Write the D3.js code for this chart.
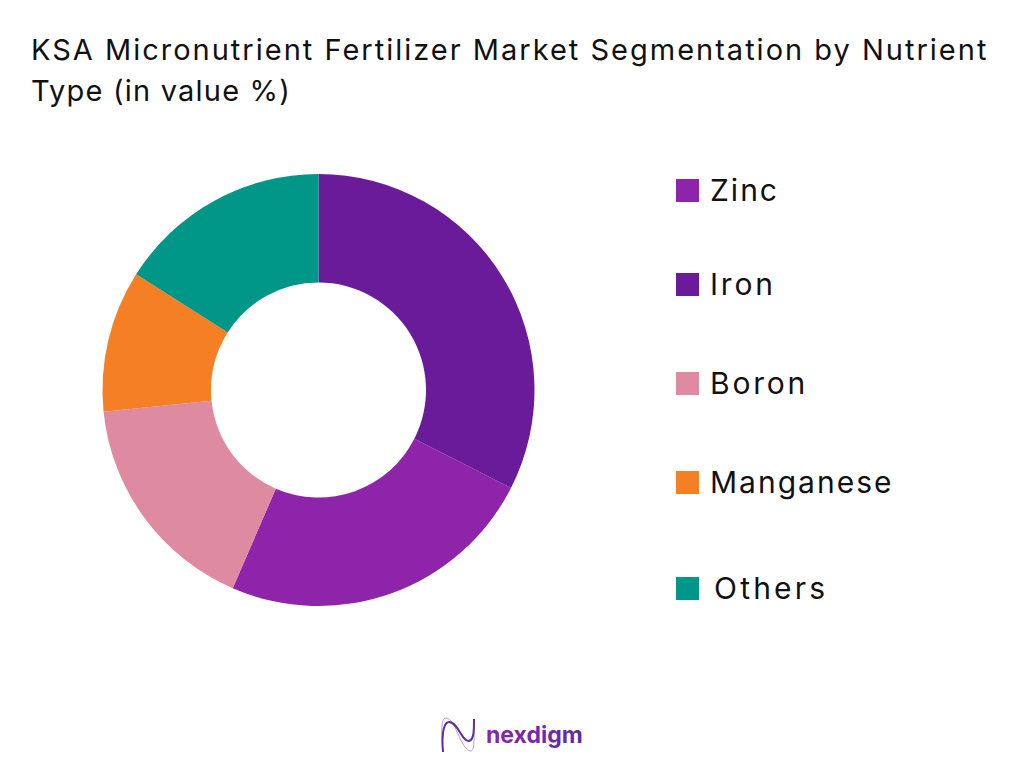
<!DOCTYPE html>
<html>
<head>
<meta charset="utf-8">
<script src="https://cdn.jsdelivr.net/npm/d3@7"></script>
<style>
  html, body { margin: 0; padding: 0; background: #fff; }
  svg { display: block; }
  text { font-family: "Inter", "Noto Sans", sans-serif; fill: #111; }
</style>
</head>
<body>
<div id="chart"></div>
<script>
const titleLines = ["KSA Micronutrient Fertilizer Market Segmentation by Nutrient", "Type (in value %)"];
const categories = ["Zinc", "Iron", "Boron", "Manganese", "Others"];
const values = [24, 32.5, 16.9, 10.6, 16];
const colors = ["#8E24AA", "#6A1B9A", "#DE8AA0", "#F57F25", "#009688"];
const ringOrder = ["Iron", "Zinc", "Boron", "Manganese", "Others"];
const brandName = "nexdigm";

const width = 1024;
const height = 768;
const cx = 318.5;
const cy = 390;
const outerR = 216;
const innerR = 107.5;

// legend rows are not evenly spaced in the original
const legendY = [190.5, 284.5, 383.5, 482.5, 588.5];
const legendTextX = [710, 710, 710, 710, 714];
// Inter is narrower than the original face, so spacing makes up the width
const titleSpacing = [2, 1.2];
const legendSpacing = [2, 2.8, 2.8, 2, 3.2];

const svg = d3.select("#chart").append("svg")
    .attr("width", width)
    .attr("height", height);

svg.selectAll(".title")
    .data(titleLines)
    .enter().append("text")
    .attr("class", "title")
    .attr("x", 31)
    .attr("y", (d, i) => 60 + i * 41)
    .attr("font-size", 29)
    .attr("font-weight", 400)
    .attr("letter-spacing", (d, i) => titleSpacing[i])
    .text(d => d);

const rows = categories.map((name, i) => ({name, value: values[i], color: colors[i]}));

const pie = d3.pie()
    .value(d => d.value)
    .sort((a, b) => ringOrder.indexOf(a.name) - ringOrder.indexOf(b.name));

const arc = d3.arc().innerRadius(innerR).outerRadius(outerR);

svg.append("g")
    .attr("transform", `translate(${cx},${cy})`)
    .selectAll("path")
    .data(pie(rows))
    .enter().append("path")
    .attr("d", arc)
    .attr("fill", d => d.data.color);

const legend = svg.selectAll(".legend-row")
    .data(rows)
    .enter().append("g")
    .attr("class", "legend-row");

legend.append("rect")
    .attr("x", 676)
    .attr("y", (d, i) => legendY[i] - 11.5)
    .attr("width", 23)
    .attr("height", 23)
    .attr("fill", d => d.color);

legend.append("text")
    .attr("x", (d, i) => legendTextX[i])
    .attr("y", (d, i) => legendY[i] + 10)
    .attr("font-size", 30)
    .attr("letter-spacing", (d, i) => legendSpacing[i])
    .text(d => d.name);

// logo: wave mark and wordmark
const defs = svg.append("defs");
const grad = defs.append("linearGradient")
    .attr("id", "brand-gradient")
    .attr("x1", "0%").attr("y1", "0%")
    .attr("x2", "100%").attr("y2", "0%");
grad.append("stop").attr("offset", "0%").attr("stop-color", "#8E24AA");
grad.append("stop").attr("offset", "100%").attr("stop-color", "#5E2CA5");

const logo = svg.append("g").attr("fill", "none");
logo.append("path")
    .attr("d", "M443 752 C441 730 441 718 446 718 C456 718 460 750 471 751 C475 751 474 735 474 719")
    .attr("stroke", "#B79AD8").attr("stroke-width", 1);
logo.append("path")
    .attr("d", "M443 752 C441 730 445 722 449 722 C458 722 462 742 469 741 C474 740 474 730 474 719")
    .attr("stroke", "#5E2CA5").attr("stroke-width", 2);

svg.append("text")
    .attr("x", 486)
    .attr("y", 743)
    .attr("font-size", 23)
    .attr("font-weight", 700)
    .style("fill", "url(#brand-gradient)")
    .text(brandName);
</script>
</body>
</html>
